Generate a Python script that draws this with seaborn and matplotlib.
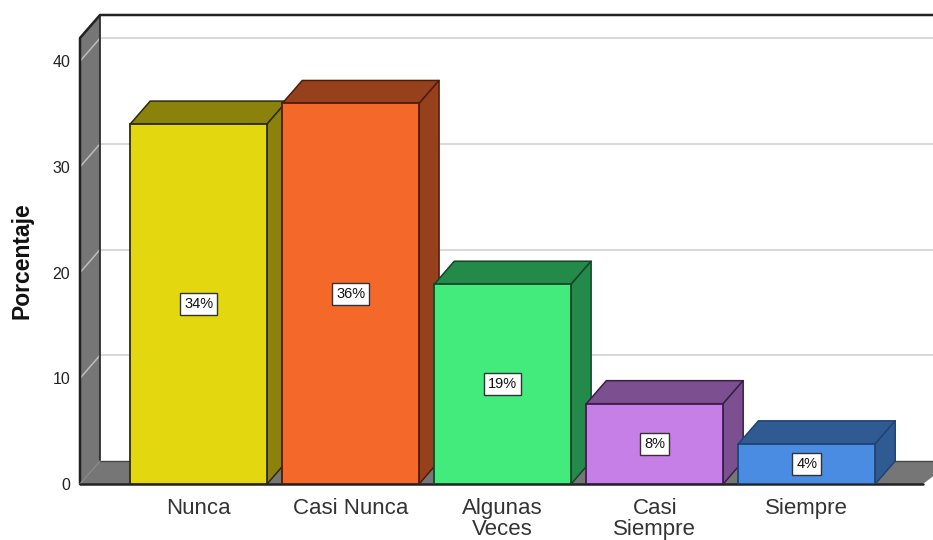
# imports
import seaborn as sns
import matplotlib
matplotlib.use("Agg")
from matplotlib import pyplot as plt
from matplotlib.patches import Polygon

# chart data
categories = ["Nunca", "Casi Nunca", "Algunas\nVeces", "Casi\nSiempre", "Siempre"]
values = [34.05, 36.0, 18.9, 7.6, 3.8]
value_labels = ["34%", "36%", "19%", "8%", "4%"]
y_ticks = [0, 10, 20, 30, 40]
grid_levels = [10, 20, 30, 40]

front_colors = ["#E3D80F", "#F4692A", "#43EB7C", "#C67FE6", "#4A8CE2"]
side_colors = ["#8A820A", "#97401C", "#248A4A", "#7C4F90", "#305A92"]
edge_colors = ["#2e2a08", "#4a1d0c", "#14452a", "#3a1f4a", "#1f4474"]

W, H = 933, 540
sns.set_theme(style="white", rc={"font.family": ["Liberation Sans", "DejaVu Sans"]})

fig = plt.figure(figsize=(W / 100, H / 100), dpi=100)
ax = fig.add_axes([80 / W, 1 - 484 / H, (W - 80) / W, (484 - 15) / H])

# front faces
sns.barplot(x=categories, y=values, hue=categories, palette=front_colors, legend=False,
            width=0.9, saturation=1, linewidth=1.3, ax=ax, zorder=5)

ax.set_xlim(-0.78, 4.83)
ax.set_ylim(0, 44.37)
ax.patch.set_visible(False)
sns.despine(ax=ax, left=True, bottom=True, top=True, right=True)

# depth of the 3d look, in data units
dx = 20 / 152
dy = 23 / 10.57
line = "#222222"
x0, x1 = ax.get_xlim()
y1 = ax.get_ylim()[1]
gray = "#767676"

# back wall grid
for g in grid_levels:
    ax.plot([x0 + dx, x1 + dx], [g + dy, g + dy], color="#d2d2d2", lw=1.2, zorder=1, clip_on=False)

# left wall and floor
ax.add_patch(Polygon([(x0, 0), (x0 + dx, dy), (x0 + dx, y1), (x0, y1 - dy)], fc=gray, ec="none", zorder=2, clip_on=False))
ax.add_patch(Polygon([(x0, 0), (x0 + dx, dy), (x1 + dx, dy), (x1 - 10 / 152, 0)], fc=gray, ec="none", zorder=2, clip_on=False))
for g in grid_levels:
    ax.plot([x0, x0 + dx], [g, g + dy], color="#bdbdbd", lw=1.1, zorder=3)

# frame lines
ax.plot([x0, x0, x0 + dx, x1 + dx], [0, y1 - dy, y1, y1], color=line, lw=1.8, zorder=3, clip_on=False)
ax.plot([x0 + dx, x0 + dx], [dy, y1], color=line, lw=1.2, zorder=3, clip_on=False)
ax.plot([x0 + dx, x1 + dx], [dy, dy], color="#444444", lw=1, zorder=3, clip_on=False)
ax.plot([x0, x1 - 10 / 152], [0, 0], color=line, lw=1.8, zorder=4, clip_on=False)
ax.plot([x0, x0 + dx], [0, dy], color="#888888", lw=1, zorder=3, clip_on=False)

# top and side faces of each bar, and the value boxes
for i, bar in enumerate(ax.patches[:len(values)]):
    left, right = bar.get_x(), bar.get_x() + bar.get_width()
    h = bar.get_height()
    z = 5 + i * 0.1
    bar.set_zorder(z + 0.05)
    bar.set_edgecolor(edge_colors[i])
    ax.add_patch(Polygon([(left, h), (left + dx, h + dy), (right + dx, h + dy), (right, h)],
                         fc=side_colors[i], ec=edge_colors[i], lw=1.1, zorder=z, joinstyle="round"))
    ax.add_patch(Polygon([(right, 0), (right + dx, dy), (right + dx, h + dy), (right, h)],
                         fc=side_colors[i], ec=edge_colors[i], lw=1.1, zorder=z, joinstyle="round"))
    ax.text((left + right) / 2, h / 2, value_labels[i], ha="center", va="center", fontsize=10.5,
            color="#111111", zorder=20,
            bbox=dict(boxstyle="square,pad=0.27", fc="white", ec="#333333", lw=1))

ax.set_yticks(y_ticks)
ax.set_yticklabels([str(t) for t in y_ticks], fontsize=11.5, color="#222222")
ax.tick_params(axis="y", length=0, pad=7)
ax.tick_params(axis="x", length=0, pad=10, labelsize=16, labelcolor="#333333")
for lab in ax.get_xticklabels():
    lab.set_linespacing(1.0)
ax.set_ylabel("")
fig.text(22 / W, 1 - 261 / H, "Porcentaje", rotation=90, ha="center", va="center",
         fontsize=16.5, fontweight="bold", color="#111111")

fig.savefig("out.png", dpi=100)
